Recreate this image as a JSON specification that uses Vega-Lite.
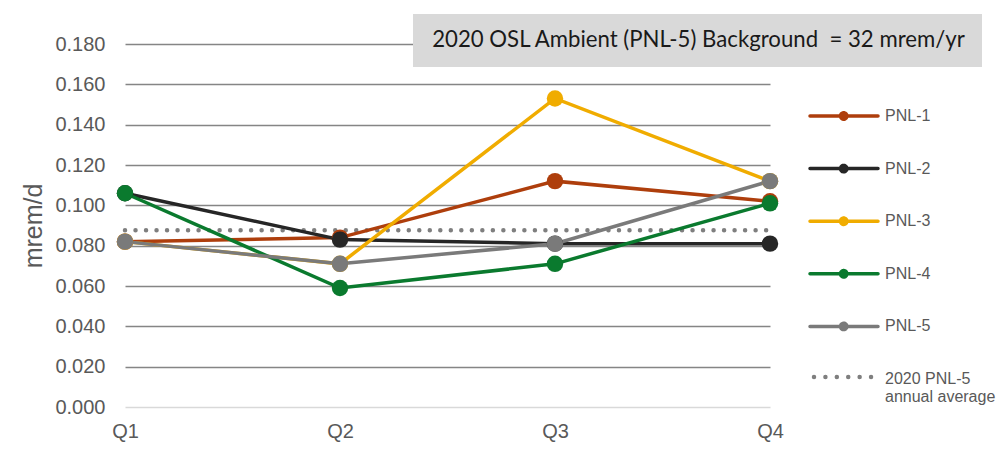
{
  "$schema": "https://vega.github.io/schema/vega-lite/v6.json",
  "width": 645,
  "height": 363,
  "autosize": {"type": "none"},
  "padding": {"left": 125, "top": 44, "right": 238, "bottom": 58},
  "background": "white",
  "config": {
    "view": {"stroke": null},
    "font": "Liberation Sans"
  },
  "data": {
    "values": [
      {"q": "Q1", "series": "avg", "v": 0.0877},
      {"q": "Q2", "series": "avg", "v": 0.0877},
      {"q": "Q3", "series": "avg", "v": 0.0877},
      {"q": "Q4", "series": "avg", "v": 0.0877},
      {"q": "Q1", "series": "PNL-1", "v": 0.082},
      {"q": "Q2", "series": "PNL-1", "v": 0.084},
      {"q": "Q3", "series": "PNL-1", "v": 0.112},
      {"q": "Q4", "series": "PNL-1", "v": 0.102},
      {"q": "Q1", "series": "PNL-2", "v": 0.106},
      {"q": "Q2", "series": "PNL-2", "v": 0.083},
      {"q": "Q3", "series": "PNL-2", "v": 0.081},
      {"q": "Q4", "series": "PNL-2", "v": 0.081},
      {"q": "Q1", "series": "PNL-3", "v": 0.082},
      {"q": "Q2", "series": "PNL-3", "v": 0.071},
      {"q": "Q3", "series": "PNL-3", "v": 0.153},
      {"q": "Q4", "series": "PNL-3", "v": 0.112},
      {"q": "Q1", "series": "PNL-4", "v": 0.106},
      {"q": "Q2", "series": "PNL-4", "v": 0.059},
      {"q": "Q3", "series": "PNL-4", "v": 0.071},
      {"q": "Q4", "series": "PNL-4", "v": 0.101},
      {"q": "Q1", "series": "PNL-5", "v": 0.082},
      {"q": "Q2", "series": "PNL-5", "v": 0.071},
      {"q": "Q3", "series": "PNL-5", "v": 0.081},
      {"q": "Q4", "series": "PNL-5", "v": 0.112}
    ]
  },
  "encoding": {
    "x": {
      "field": "q",
      "type": "ordinal",
      "scale": {"type": "point", "padding": 0},
      "axis": {
        "title": null,
        "labelAngle": 0,
        "domain": false,
        "ticks": false,
        "labelPadding": 14,
        "labelFont": "Liberation Sans",
        "labelFontSize": 20,
        "labelColor": "#595959"
      }
    },
    "y": {
      "field": "v",
      "type": "quantitative",
      "scale": {"domain": [0, 0.18], "nice": false},
      "axis": {
        "title": "mrem/d",
        "titleFont": "Liberation Sans",
        "titleFontSize": 25,
        "titleFontWeight": "normal",
        "titleColor": "#595959",
        "titlePadding": 8,
        "values": [0, 0.02, 0.04, 0.06, 0.08, 0.1, 0.12, 0.14, 0.16, 0.18],
        "format": ".3f",
        "domain": false,
        "ticks": false,
        "labelPadding": 20,
        "labelFont": "Liberation Sans",
        "labelFontSize": 20,
        "labelColor": "#595959",
        "grid": true,
        "gridColor": {"condition": {"test": "datum.value === 0", "value": "#d9d9d9"}, "value": "#858585"},
        "gridWidth": 1.6
      }
    },
    "color": {
      "field": "series",
      "type": "nominal",
      "scale": {
        "domain": ["PNL-1", "PNL-2", "PNL-3", "PNL-4", "PNL-5", "avg"],
        "range": ["#ae3e0c", "#262626", "#f0ac00", "#0a7a2e", "#7a7a7a", "#7f7f7f"]
      },
      "legend": {
        "title": null,
        "orient": "none",
        "legendX": 687,
        "legendY": 64,
        "padding": 0,
        "symbolType": "M-1,0L5.8,0M2.05,0A0.32,0.32 0 1,0 2.69,0A0.32,0.32 0 1,0 2.05,0",
        "symbolSize": 400,
        "symbolStrokeWidth": 3.5,
        "labelOffset": 57,
        "labelFont": "Liberation Sans",
        "labelFontSize": 16,
        "labelColor": "#595959",
        "rowPadding": 30.6,
        "labelExpr": "datum.label == 'avg' ? ['2020 PNL-5', 'annual average'] : datum.label",
        "encode": {
          "symbols": {
            "update": {
              "fill": {"scale": "color", "field": "value"},
              "stroke": {"scale": "color", "field": "value"},
              "strokeCap": {"value": "round"},
              "shape": {"signal": "datum.value == 'avg' ? 'M-0.6,0L5.6,0' : 'M-1,0L5.8,0M2.05,0A0.32,0.32 0 1,0 2.69,0A0.32,0.32 0 1,0 2.05,0'"},
              "strokeDash": {"signal": "datum.value == 'avg' ? [0.01, 11.4] : [1, 0]"},
              "strokeWidth": {"signal": "datum.value == 'avg' ? 4.5 : 3.5"},
              "opacity": {"value": 1}
            }
          },
          "labels": {
            "update": {
              "dy": {"signal": "datum.value == 'avg' ? 2 : 0"}
            }
          }
        }
      }
    }
  },
  "layer": [
    {
      "transform": [{"filter": "datum.series == 'avg'"}],
      "mark": {"type": "line", "strokeWidth": 4.5, "strokeCap": "round", "strokeDash": [0.01, 10.5]}
    },
    {
      "transform": [{"filter": "datum.series != 'avg'"}],
      "mark": {"type": "line", "strokeWidth": 3.5, "strokeCap": "round"}
    },
    {
      "transform": [{"filter": "datum.series != 'avg'"}],
      "mark": {"type": "point", "filled": true, "size": 270, "opacity": 1},
      "encoding": {
        "shape": {
          "datum": "2020 OSL Ambient (PNL-5) Background\u00a0 = 32 mrem/yr\u00a0\u00a0\u00a0",
          "scale": {"range": ["circle"]},
          "legend": {
            "title": null,
            "orient": "none",
            "legendX": 288,
            "legendY": -30,
            "fillColor": "#d9d9d9",
            "padding": 15,
            "symbolSize": 0,
            "symbolOpacity": 0,
            "symbolStrokeWidth": 0,
            "labelOffset": -18,
            "labelFont": "Lato",
            "labelFontSize": 22.2,
            "labelColor": "#1a1a1a",
            "labelLimit": 0
          }
        }
      }
    }
  ]
}
